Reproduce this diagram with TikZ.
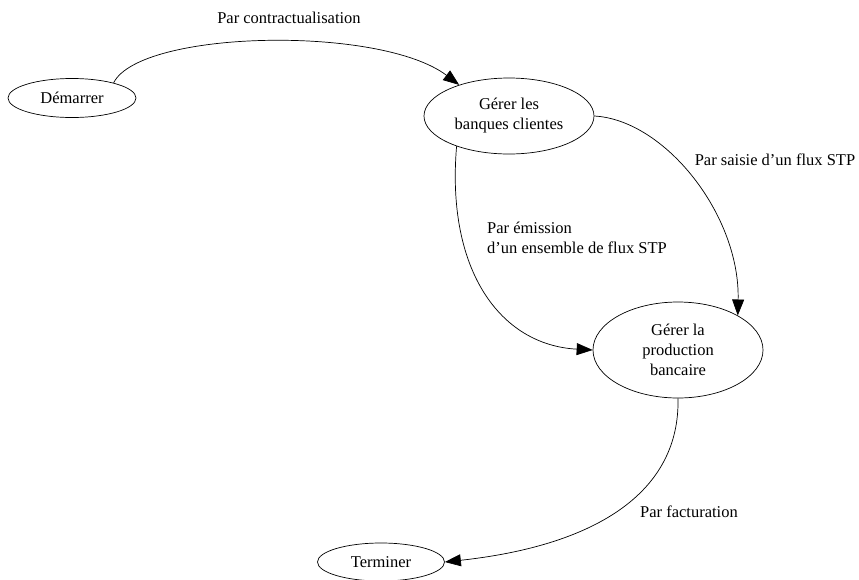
\documentclass[tikz,border=0pt]{standalone}
\usepackage{fontspec}
\setmainfont{Liberation Serif}
\usetikzlibrary{shapes.geometric,arrows.meta}
\begin{document}
\begin{tikzpicture}[x=1pt,y=-1pt,
  state/.style={draw,ellipse,line width=0.7pt,inner sep=0pt,font=\fontsize{16.5}{20}\selectfont,align=center},
  lbl/.style={font=\fontsize{16.5}{20}\selectfont,inner sep=0pt},
  edge/.style={draw,line width=0.7pt,-{Triangle[length=16pt,width=12pt]}}]
\useasboundingbox (0,0) rectangle (859,579);
\node[state,minimum width=128pt,minimum height=39pt] (start) at (72,98) {Démarrer};
\node[state,minimum width=170pt,minimum height=76pt] (banq) at (509,116) {Gérer les\\banques clientes};
\node[state,minimum width=170pt,minimum height=96pt] (prod) at (678,350) {Gérer la\\production\\bancaire};
\node[state,minimum width=127pt,minimum height=38pt] (term) at (381,562) {Terminer};
\draw[edge] (start.20) .. controls (140,30) and (380,25) .. (banq.148);
\node[lbl] (l1) at (289,18) {Par contractualisation};
\draw[edge] (banq.east) .. controls (665,120) and (740,215) .. (prod.30);
\node[lbl] (l2) at (775,160) {Par saisie d’un flux STP};
\draw[edge] (banq.210) .. controls (446,270) and (500,345) .. (prod.west);
\node[lbl,align=left] (l3) at (577,238) {Par émission\\d’un ensemble de flux STP};
\draw[edge] (prod.south) .. controls (680,490) and (600,545) .. (term.east);
\node[lbl] (l4) at (689,512) {Par facturation};
\end{tikzpicture}
\end{document}
